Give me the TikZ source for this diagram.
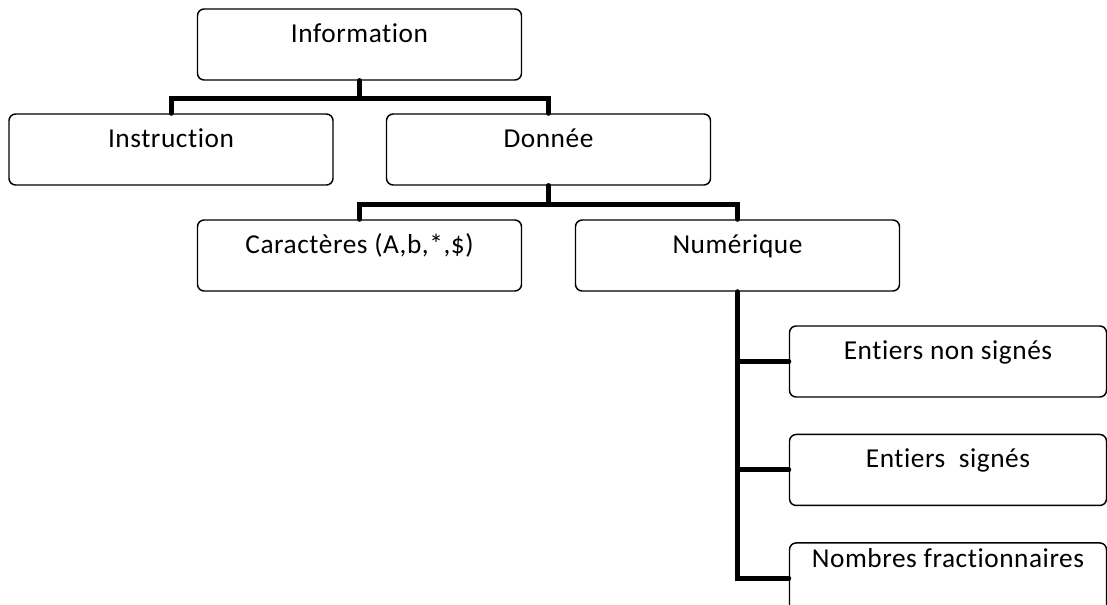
\documentclass[tikz,border=0pt]{standalone}
\usepackage{fontspec}
\setmainfont{Carlito}[Ligatures=NoCommon,LetterSpace=2]
\usetikzlibrary{positioning}

\begin{document}
\begin{tikzpicture}[x=0.75pt,y=-0.75pt,node distance=27pt,
    box/.style={draw,line width=1.1pt,rounded corners=5pt,minimum width=243pt,
      inner ysep=0pt,text height=24.75pt,text depth=28.5pt,
      font=\fontsize{20.5}{24}\selectfont},
    link/.style={line width=3.75pt,line cap=round}]
    \clip (0,0) rectangle (1107,604);
    % Top levels
    \node[box] (info) at (359.5,44.5) {Information};
    \node[box] (instr) at (171,149.5) {Instruction};
    \node[box] (donnee) at (548.5,149.5) {Donnée};
    \node[box] (car) at (359.5,255.5) {Caractères (A,b,*,\$)};
    \node[box] (num) at (737.5,255.5) {Numérique};
    % Numeric kinds
    \node[box,minimum width=237.75pt] (e1) at (948,361.5) {Entiers non signés};
    \node[box,minimum width=237.75pt,below=of e1] (e2) {Entiers~~signés};
    \node[box,minimum width=237.75pt,below=of e2,text height=18.75pt,text depth=34.5pt] (e3) {Nombres fractionnaires};
    % Connectors
    \draw[link] (info.south) -- ++(0,18) -| (instr.north);
    \draw[link] (info.south) -- ++(0,18) -| (donnee.north);
    \draw[link] (donnee.south) -- ++(0,19) -| (car.north);
    \draw[link] (donnee.south) -- ++(0,19) -| (num.north);
    \draw[link] (num.south) |- (e3.west);
    \draw[link] (num.south |- e1.west) -- (e1.west);
    \draw[link] (num.south |- e2.west) -- (e2.west);
\end{tikzpicture}
\end{document}
